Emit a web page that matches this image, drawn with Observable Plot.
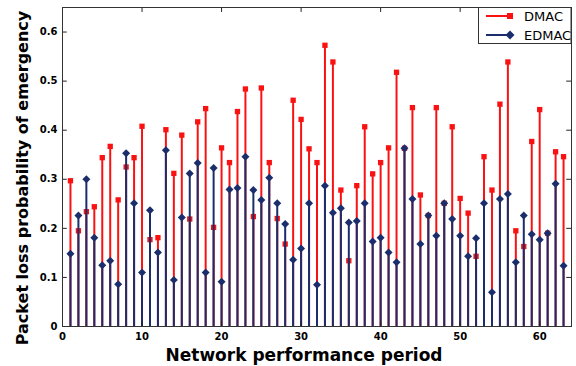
<!DOCTYPE html>
<html>
<head>
<meta charset="utf-8">
<script src="https://cdn.jsdelivr.net/npm/d3@7"></script>
<script src="https://cdn.jsdelivr.net/npm/@observablehq/plot@0.6"></script>
<style>
  html, body { margin: 0; padding: 0; background: #fff; }
  #chart { width: 576px; height: 366px; }
</style>
</head>
<body>
<div id="chart"></div>
<script>
const periods = [1,2,3,4,5,6,7,8,9,10,11,12,13,14,15,16,17,18,19,20,21,22,23,24,25,26,27,28,29,30,31,32,33,34,35,36,37,38,39,40,41,42,43,44,45,46,47,48,49,50,51,52,53,54,55,56,57,58,59,60,61,62,63];
const dmac = [0.297,0.195,0.234,0.244,0.344,0.367,0.258,0.325,0.344,0.408,
  0.177,0.181,0.401,0.312,0.390,0.219,0.417,0.444,0.202,0.364,
  0.334,0.438,0.484,0.224,0.486,0.334,0.220,0.168,0.461,0.422,
  0.362,0.334,0.573,0.539,0.278,0.134,0.287,0.407,0.311,0.334,
  0.364,0.518,0.363,0.446,0.268,0.226,0.446,0.251,0.407,0.261,
  0.231,0.143,0.346,0.278,0.453,0.539,0.195,0.163,0.377,0.442,
  0.190,0.356,0.346];
const edmac = [0.148,0.226,0.300,0.181,0.125,0.134,0.086,0.353,0.251,0.110,
  0.237,0.151,0.359,0.095,0.222,0.312,0.333,0.110,0.323,0.091,
  0.279,0.282,0.346,0.278,0.258,0.303,0.251,0.209,0.136,0.159,
  0.251,0.085,0.287,0.232,0.241,0.212,0.215,0.251,0.173,0.181,
  0.151,0.131,0.363,0.260,0.168,0.226,0.185,0.251,0.219,0.185,
  0.143,0.180,0.251,0.070,0.260,0.270,0.131,0.226,0.188,0.177,
  0.190,0.291,0.124];
const xTicks = [0,10,20,30,40,50,60];
const yTicks = [0,0.1,0.2,0.3,0.4,0.5,0.6];
const seriesNames = ["DMAC","EDMAC"];
const colors = {DMAC: "#fa1212", EDMAC: "#1b2d6b"};

const dmacData = periods.map((p,i) => ({period: p, value: dmac[i]}));
const edmacData = periods.map((p,i) => ({period: p, value: edmac[i]}));

const xMax = 64, yMax = 0.65;
const tickLenX = 0.6, tickLenY = 0.01;

const plot = Plot.plot({
  width: 576,
  height: 366,
  marginLeft: 62,
  marginRight: 5,
  marginTop: 7,
  marginBottom: 40,
  style: {fontFamily: "DejaVu Sans", background: "#fff", color: "#000"},
  x: {domain: [0, xMax]},
  y: {domain: [0, yMax]},
  marks: [
    Plot.ruleX(dmacData, {x: "period", y1: 0, y2: "value", stroke: colors.DMAC, strokeWidth: 2}),
    Plot.dot(dmacData, {x: "period", y: "value", symbol: "square", r: 3, fill: colors.DMAC, stroke: "none"}),
    Plot.ruleX(edmacData, {x: "period", y1: 0, y2: "value", stroke: colors.EDMAC, strokeWidth: 2}),
    Plot.dot(edmacData, {x: "period", y: "value", symbol: "diamond2", r: 3.6, fill: colors.EDMAC, stroke: "none"}),
    Plot.ruleX(xTicks, {x: d => d, y1: 0, y2: tickLenY, stroke: "#222", strokeWidth: 1}),
    Plot.ruleX(xTicks, {x: d => d, y1: yMax, y2: yMax - tickLenY, stroke: "#222", strokeWidth: 1}),
    Plot.ruleY(yTicks, {y: d => d, x1: 0, x2: tickLenX, stroke: "#222", strokeWidth: 1}),
    Plot.ruleY(yTicks, {y: d => d, x1: xMax, x2: xMax - tickLenX, stroke: "#222", strokeWidth: 1}),
    Plot.axisX(xTicks, {tickSize: 0, tickPadding: 6, fontSize: 10, fontWeight: "bold",
      label: "Network performance period", labelAnchor: "center", labelArrow: "none", labelOffset: 34}),
    Plot.axisY(yTicks, {tickSize: 0, tickPadding: 5, fontSize: 10, fontWeight: "bold",
      tickFormat: d => d === 0 ? "0" : d3.format(".1f")(d),
      label: "Packet loss probability of emergency", labelAnchor: "center", labelArrow: "none", labelOffset: 46}),
    Plot.frame({stroke: "#333", strokeWidth: 1})
  ]
});

const svg = d3.select(plot);
svg.selectAll("[aria-label='x-axis label'] text")
  .attr("font-size", 17).attr("font-weight", "bold").attr("fill", "#000").attr("dx", -13);
svg.selectAll("[aria-label='y-axis label'] text")
  .attr("font-size", 16).attr("font-weight", "bold").attr("fill", "#000").attr("dx", -11);

// legend box (top-right, inside frame)
const lg = svg.append("g").attr("font-family", "DejaVu Sans").attr("font-size", 13).attr("text-anchor", "start");
lg.append("rect").attr("x", 478.5).attr("y", 7.5).attr("width", 92.5).attr("height", 36)
  .attr("fill", "#fff").attr("stroke", "#333");
seriesNames.forEach((name, i) => {
  const y = 16 + i * 19;
  lg.append("line").attr("x1", 486).attr("x2", 510).attr("y1", y).attr("y2", y)
    .attr("stroke", colors[name]).attr("stroke-width", 2);
  if (name === "DMAC") {
    lg.append("rect").attr("x", 507).attr("y", y - 3).attr("width", 6).attr("height", 6).attr("fill", colors[name]);
  } else {
    lg.append("path").attr("d", `M510,${y-4.5}L514.5,${y}L510,${y+4.5}L505.5,${y}Z`).attr("fill", colors[name]);
  }
  lg.append("text").attr("x", 524).attr("y", y).attr("dy", "0.35em").attr("fill", "#000").text(name);
});

document.getElementById("chart").appendChild(plot);
</script>
</body>
</html>
